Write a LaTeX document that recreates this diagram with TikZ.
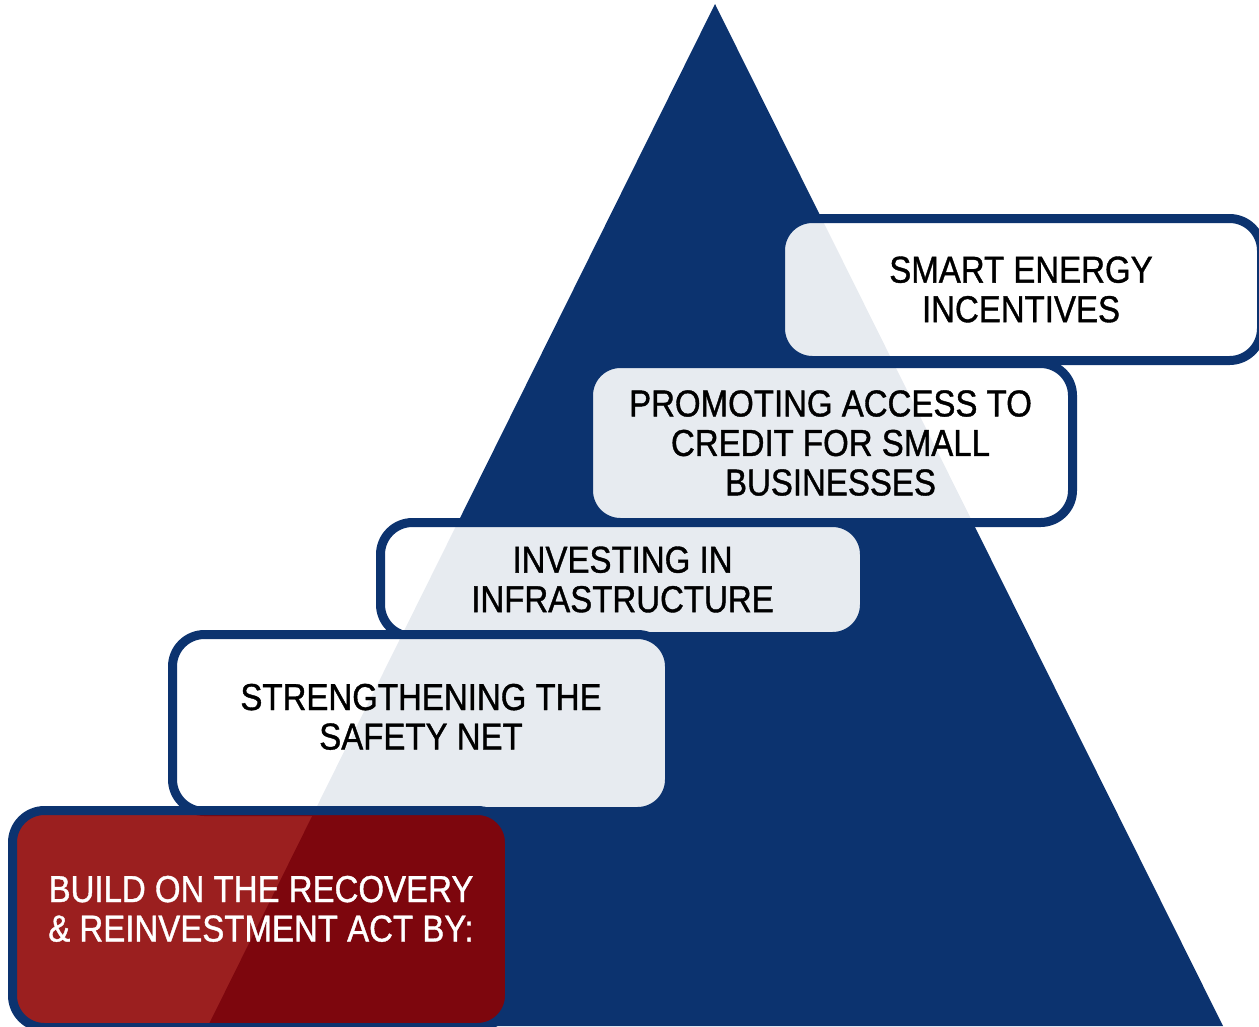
\documentclass[tikz,border=0pt]{standalone}
\usepackage{fontspec}
\setmainfont[FakeStretch=0.88,FakeBold=1]{Liberation Sans}
\usetikzlibrary{positioning}
\definecolor{navy}{RGB}{12,51,111}
\definecolor{darkred}{RGB}{141,0,0}
\tikzset{
  stepbox/.style={
    rectangle,
    rounded corners=32pt,
    draw=navy, line width=9pt,
    fill=white, fill opacity=0.9, draw opacity=1, text opacity=1,
    inner sep=0pt,
    align=center,
    font=\fontsize{37.5}{39.5}\selectfont
  },
  basebox/.style={
    stepbox,
    fill=darkred, fill opacity=0.88,
    text=white
  }
}

\begin{document}
\begin{tikzpicture}[x=1pt,y=-1pt]
\useasboundingbox (0,0) rectangle (1259,1026);

% pyramid
\fill[navy] (715,4) -- (1223,1026) -- (208,1026) -- cycle;

% steps, top first
\node[stepbox, minimum width=481pt, minimum height=142pt] (energy) at (1021,289.5)
  {SMART ENERGY\\INCENTIVES};
\node[stepbox, minimum width=484pt, minimum height=159pt] (credit) at (830.5,443)
  {PROMOTING ACCESS TO\\CREDIT FOR SMALL\\BUSINESSES};
\node[stepbox, minimum width=484pt, minimum height=114pt] (infra) at (622.5,579.5)
  {INVESTING IN\\INFRASTRUCTURE};
\node[stepbox, minimum width=497pt, minimum height=177pt,
      text height=53pt, text depth=0pt] (safety) at (421,723)
  {STRENGTHENING THE\\SAFETY NET};
\node[basebox, minimum width=497pt, minimum height=217pt,
      text height=45pt, text depth=0pt] (recovery) at (261,919)
  {BUILD ON THE RECOVERY\\\& REINVESTMENT ACT BY:};

\end{tikzpicture}
\end{document}
